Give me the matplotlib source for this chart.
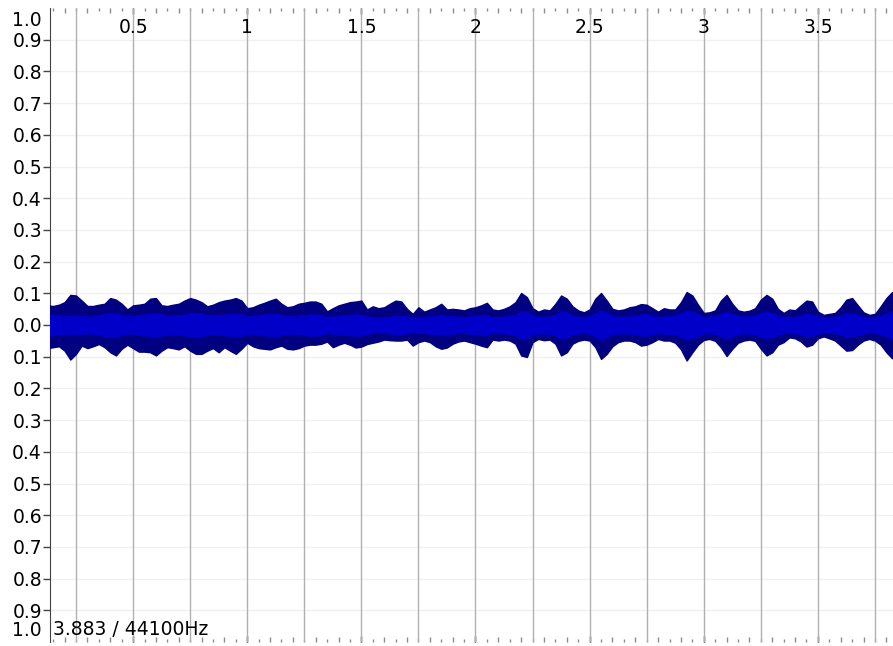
import numpy as np
import matplotlib.pyplot as plt

# envelope samples, one every 25 ms starting at 0.125 s
t_start = 0.125
t_step = 0.025

peak_upper = [
    0.062, 0.060, 0.064, 0.072, 0.095, 0.093, 0.077, 0.060, 0.060, 0.064, 0.067, 0.085, 0.080, 0.067,
    0.049, 0.062, 0.064, 0.067, 0.083, 0.085, 0.062, 0.060, 0.064, 0.067, 0.077, 0.085, 0.080,
    0.072, 0.059, 0.064, 0.072, 0.077, 0.080, 0.085, 0.077, 0.053, 0.056, 0.064, 0.070, 0.077, 0.083,
    0.067, 0.056, 0.059, 0.067, 0.070, 0.074, 0.074, 0.067, 0.043, 0.053, 0.062, 0.067,
    0.072, 0.074, 0.077, 0.049, 0.059, 0.053, 0.056, 0.067, 0.077, 0.074, 0.051, 0.035, 0.056,
    0.042, 0.049, 0.056, 0.067, 0.049, 0.051, 0.049, 0.046, 0.053, 0.056, 0.062, 0.070,
    0.049, 0.046, 0.051, 0.059, 0.072, 0.101, 0.088, 0.053, 0.042, 0.049, 0.046, 0.067, 0.093,
    0.083, 0.059, 0.046, 0.040, 0.049, 0.083, 0.101, 0.077, 0.051, 0.046, 0.049, 0.056, 0.059,
    0.066, 0.064, 0.053, 0.042, 0.053, 0.049, 0.049, 0.072, 0.104, 0.093, 0.064, 0.038, 0.040,
    0.046, 0.077, 0.095, 0.067, 0.046, 0.042, 0.045, 0.053, 0.080, 0.095, 0.083, 0.051, 0.038,
    0.049, 0.046, 0.062, 0.077, 0.074, 0.042, 0.032, 0.035, 0.038, 0.056, 0.080, 0.085, 0.062,
    0.040, 0.032, 0.035, 0.059, 0.085, 0.104, 0.104,
]

peak_lower = [
    0.073, 0.070, 0.067, 0.081, 0.109, 0.091, 0.065, 0.073, 0.067, 0.060, 0.070, 0.086, 0.096, 0.075,
    0.062, 0.073, 0.084, 0.084, 0.086, 0.096, 0.081, 0.070, 0.073, 0.077, 0.067, 0.081, 0.091,
    0.091, 0.081, 0.073, 0.086, 0.070, 0.081, 0.091, 0.075, 0.056, 0.067, 0.073, 0.075, 0.077, 0.070,
    0.065, 0.075, 0.077, 0.073, 0.065, 0.062, 0.062, 0.059, 0.052, 0.070, 0.062, 0.056,
    0.062, 0.071, 0.068, 0.060, 0.056, 0.052, 0.046, 0.048, 0.049, 0.049, 0.046, 0.065, 0.054,
    0.049, 0.054, 0.067, 0.075, 0.071, 0.059, 0.052, 0.049, 0.054, 0.059, 0.065, 0.070,
    0.046, 0.049, 0.046, 0.049, 0.059, 0.096, 0.101, 0.054, 0.044, 0.048, 0.046, 0.059, 0.096,
    0.086, 0.059, 0.050, 0.046, 0.049, 0.070, 0.107, 0.091, 0.067, 0.054, 0.049, 0.049, 0.054,
    0.065, 0.062, 0.054, 0.044, 0.049, 0.049, 0.056, 0.077, 0.112, 0.086, 0.062, 0.047, 0.044,
    0.050, 0.070, 0.098, 0.075, 0.056, 0.049, 0.046, 0.050, 0.075, 0.096, 0.086, 0.062, 0.054,
    0.039, 0.042, 0.052, 0.068, 0.062, 0.042, 0.036, 0.042, 0.049, 0.065, 0.081, 0.079, 0.062,
    0.049, 0.044, 0.049, 0.062, 0.086, 0.105, 0.101,
]

rms = [
    0.034, 0.033, 0.031, 0.028, 0.030, 0.031, 0.029, 0.027, 0.028, 0.031, 0.035, 0.038, 0.037, 0.032,
    0.027, 0.029, 0.031, 0.033, 0.036, 0.038, 0.034, 0.030, 0.030, 0.031, 0.033, 0.037, 0.038,
    0.037, 0.032, 0.030, 0.031, 0.033, 0.035, 0.037, 0.034, 0.029, 0.028, 0.031, 0.033, 0.035, 0.036,
    0.032, 0.029, 0.028, 0.030, 0.032, 0.034, 0.034, 0.032, 0.026, 0.028, 0.030, 0.031,
    0.033, 0.034, 0.033, 0.028, 0.026, 0.025, 0.024, 0.027, 0.030, 0.030, 0.027, 0.023, 0.026,
    0.025, 0.028, 0.030, 0.032, 0.029, 0.028, 0.026, 0.026, 0.028, 0.030, 0.032, 0.033,
    0.025, 0.026, 0.027, 0.029, 0.034, 0.044, 0.042, 0.032, 0.027, 0.027, 0.028, 0.034, 0.044,
    0.040, 0.031, 0.027, 0.026, 0.028, 0.038, 0.046, 0.040, 0.030, 0.027, 0.027, 0.028, 0.030,
    0.034, 0.034, 0.030, 0.026, 0.028, 0.028, 0.031, 0.038, 0.046, 0.044, 0.035, 0.026, 0.027,
    0.029, 0.036, 0.042, 0.036, 0.029, 0.027, 0.028, 0.031, 0.038, 0.042, 0.039, 0.031, 0.026,
    0.027, 0.026, 0.030, 0.036, 0.035, 0.028, 0.024, 0.024, 0.027, 0.032, 0.037, 0.038, 0.033,
    0.027, 0.024, 0.025, 0.030, 0.037, 0.044, 0.045,
]

y_ticks = [-0.9, -0.8, -0.7, -0.6, -0.5, -0.4, -0.3, -0.2, -0.1, 0.0,
           0.1, 0.2, 0.3, 0.4, 0.5, 0.6, 0.7, 0.8, 0.9]
y_labels = ["0.9", "0.8", "0.7", "0.6", "0.5", "0.4", "0.3", "0.2", "0.1", "0.0",
            "0.1", "0.2", "0.3", "0.4", "0.5", "0.6", "0.7", "0.8", "0.9"]
x_label_pos = [0.5, 1.0, 1.5, 2.0, 2.5, 3.0, 3.5]
x_labels = ["0.5", "1", "1.5", "2", "2.5", "3", "3.5"]
grid_pos = [0.25, 0.5, 0.75, 1.0, 1.25, 1.5, 1.75, 2.0, 2.25, 2.5, 2.75, 3.0, 3.25, 3.5, 3.75]
info_text = "3.883 / 44100Hz"

FS = 13.5

t = t_start + t_step * np.arange(len(peak_upper))
up = np.array(peak_upper)
lo = np.array(peak_lower)
r = np.array(rms)

fig = plt.figure(figsize=(8.93, 6.46), dpi=100)
ax = fig.add_axes([50 / 893, 4 / 646, 843 / 893, 634 / 646])
ax.set_xlim(0.136, 3.829)
ax.set_ylim(-1, 1)

for s in ["top", "right", "bottom"]:
    ax.spines[s].set_visible(False)
ax.spines["left"].set_color("#444444")

# horizontal light grid
ax.set_yticks(y_ticks, y_labels)
ax.tick_params(axis="y", length=4.8, width=1, color="#444444", pad=1.0, labelsize=FS)
ax.grid(axis="y", color="#f0f0f0", lw=1)
ax.set_axisbelow(True)

# vertical grid every quarter second
ax.vlines(grid_pos, -1, 1, colors="#b0b0b0", lw=1, zorder=1)

# x ticks: halves (black), tenths (grey), odd twentieths (short grey)
ax.set_xticks(x_label_pos)
ax.set_xticks([round(0.1 * k, 1) for k in range(2, 39)], minor=True)
ax.tick_params(axis="x", which="major", direction="in", top=True, bottom=True,
               length=4.5, width=1, color="black", labelbottom=False)
ax.tick_params(axis="x", which="minor", direction="in", top=True, bottom=True,
               length=3.6, width=1, color="#8c8c8c")
odd_pos = [round(0.05 + 0.1 * k, 2) for k in range(1, 38)]
for side in ["top", "bottom"]:
    sec = ax.secondary_xaxis(side)
    sec.set_xticks(odd_pos)
    sec.tick_params(direction="in", length=2.2, width=1, color="#8c8c8c",
                    labeltop=False, labelbottom=False)
    sec.spines[side].set_visible(False)

for x, s in zip(x_label_pos, x_labels):
    ax.text(x, 0.970, s, transform=ax.get_xaxis_transform(), ha="center", va="center",
            fontsize=FS, zorder=5)

ax.text(-0.0095, 0.962, "1.0", transform=ax.get_yaxis_transform(), ha="right", va="center",
        fontsize=FS)
ax.text(-0.0095, -0.965, "1.0", transform=ax.get_yaxis_transform(), ha="right", va="center",
        fontsize=FS, clip_on=False)

# waveform: peak envelope and rms band
ax.fill_between(t, -lo, up, color="#000080", lw=1.0, zorder=3)
ax.fill_between(t, -r, r, color="#0000c8", lw=0.5, zorder=4)

ax.text(0.0036, 0.011, info_text, transform=ax.transAxes, ha="left", va="baseline",
        fontsize=FS, zorder=5)

fig.savefig("out.png", dpi=100)
